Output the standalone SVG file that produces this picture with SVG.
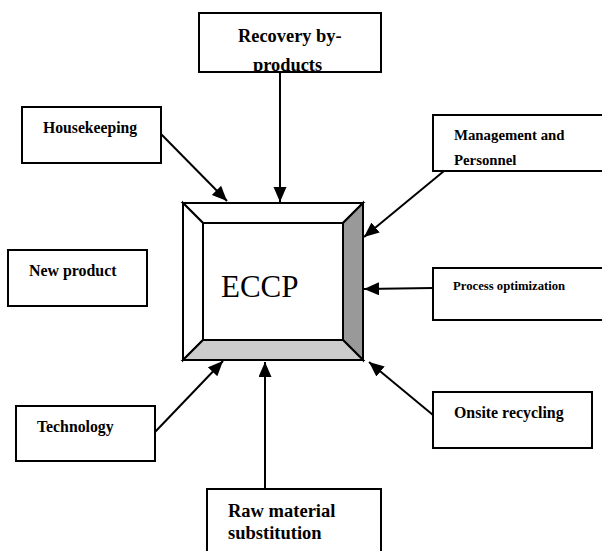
<svg xmlns="http://www.w3.org/2000/svg" width="602" height="551" viewBox="0 0 602 551">
<style>
.box{fill:#fff;stroke:#000;stroke-width:2}
.t{font-family:"Liberation Serif","Times New Roman",serif;font-weight:bold;fill:#000}
.c{stroke:#000;stroke-width:2;fill:none;marker-end:url(#ah)}
.bev{stroke:#000;stroke-width:2;stroke-linejoin:miter}
</style>
<defs>
<marker id="ah" markerUnits="userSpaceOnUse" markerWidth="16" markerHeight="14" refX="15" refY="6.5" orient="auto">
<path d="M0,0 L15,6.5 L0,13 Z" fill="#000"/>
</marker>
<clipPath id="rc"><rect x="200" y="14" width="180" height="57"/></clipPath>
</defs>
<rect width="602" height="551" fill="#fff"/>
<g id="connectors">
<line class="c" x1="280" y1="72" x2="280" y2="202"/>
<line class="c" x1="161" y1="134" x2="227" y2="201"/>
<line class="c" x1="444" y1="171" x2="364" y2="237"/>
<line class="c" x1="433" y1="288" x2="364" y2="289"/>
<line class="c" x1="433" y1="415" x2="369" y2="362"/>
<line class="c" x1="265" y1="489" x2="265" y2="362"/>
<line class="c" x1="155" y1="432" x2="223" y2="361"/>
</g>
<g id="eccp">
<polygon class="bev" points="183,203 363,203 343,223 203,223" fill="#fff"/>
<polygon class="bev" points="183,203 203,223 203,340 183,360" fill="#fff"/>
<polygon class="bev" points="363,203 363,360 343,340 343,223" fill="#999"/>
<polygon class="bev" points="183,360 363,360 343,340 203,340" fill="#ccc"/>
<rect x="203" y="223" width="140" height="117" fill="#fff" stroke="#000" stroke-width="2"/>
<text x="221" y="297" font-family="Liberation Serif,Times New Roman,serif" font-size="31">ECCP</text>
</g>
<g id="recovery">
<rect class="box" x="199" y="13" width="182" height="59"/>
<g clip-path="url(#rc)">
<text class="t" font-size="18.4" x="238" y="42">Recovery by-</text>
<text class="t" font-size="18.4" x="253" y="71">products</text>
</g>
</g>
<g id="housekeeping">
<rect class="box" x="22" y="107" width="139" height="56"/>
<text class="t" font-size="15.7" x="43" y="133">Housekeeping</text>
</g>
<g id="management">
<rect class="box" x="433" y="115" width="172" height="56"/>
<text class="t" font-size="14.8" x="454" y="140">Management and</text>
<text class="t" font-size="14.8" x="454" y="165">Personnel</text>
</g>
<g id="newproduct">
<rect class="box" x="8" y="250" width="139" height="56"/>
<text class="t" font-size="15.9" x="29" y="276">New product</text>
</g>
<g id="process">
<rect class="box" x="433" y="268" width="172" height="52"/>
<text class="t" font-size="12.7" x="453" y="290">Process optimization</text>
</g>
<g id="technology">
<rect class="box" x="16" y="406" width="139" height="55"/>
<text class="t" font-size="15.8" x="37" y="432">Technology</text>
</g>
<g id="onsite">
<rect class="box" x="433" y="392" width="159" height="56"/>
<text class="t" font-size="15.9" x="454" y="418">Onsite recycling</text>
</g>
<g id="rawmaterial">
<rect class="box" x="207" y="489" width="174" height="70"/>
<text class="t" font-size="18.5" x="228" y="517">Raw material</text>
<text class="t" font-size="18.5" x="228" y="539">substitution</text>
</g>
</svg>
